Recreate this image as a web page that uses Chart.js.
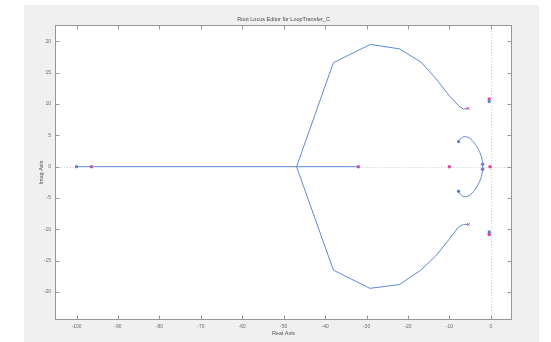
<!DOCTYPE html>
<html><head><meta charset="utf-8">
<script src="https://cdn.jsdelivr.net/npm/chart.js@4"></script>
<style>html,body{margin:0;padding:0;background:#fff;}</style>
</head><body>
<canvas id="c" width="551" height="342"></canvas>
<script>
// ---- data ----
const titleText = 'Root Locus Editor for LoopTransfer_C';
const xLabel = 'Real Axis';
const yLabel = 'Imag Axis';
const xTicks = [-100, -90, -80, -70, -60, -50, -40, -30, -20, -10, 0];
const yTicks = [-20, -15, -10, -5, 0, 5, 10, 15, 20];
const xRange = [-105.2, 5.1];
const yRange = [-24.45, 22.6];

const realLocusX = [-100, -32];
const realLocusY = [0, 0];
const upperLocusX = [-46.9, -38.0, -29.1, -22.1, -16.9, -13.2, -10.0, -7.6, -6.6, -5.5];
const upperLocusY = [0, 16.6, 19.5, 18.8, 16.7, 14.0, 11.3, 9.6, 9.2, 9.3];
const lowerLocusX = [-46.9, -38.0, -29.2, -22.1, -17.1, -13.4, -10.2, -7.8, -6.6, -5.4];
const lowerLocusY = [0, -16.5, -19.4, -18.8, -16.6, -14.3, -11.7, -9.6, -9.2, -9.2];
const loopLocusX = [-7.8, -7.4, -6.8, -6.2, -5.0, -3.4, -2.3, -2.0, -2.3, -3.4, -5.0, -6.2, -6.8, -7.4, -7.8];
const loopLocusY = [4.0, 4.4, 4.7, 4.8, 4.5, 3.2, 1.6, 0, -1.6, -3.2, -4.5, -4.8, -4.7, -4.4, -3.9];

const bluePointX = [-100, -7.8, -7.8, -0.4, -0.4];
const bluePointY = [0, 4.0, -3.9, 10.4, -10.4];
const magentaPointX = [-96.4, -32.0, -10.0, -2.0, -2.0, -0.2, -0.4, -0.4];
const magentaPointY = [0, 0, 0, 0.4, -0.4, 0, 10.8, -10.8];
const crossPointX = [-5.5, -5.4];
const crossPointY = [9.3, -9.2];

// ---- helpers ----
const pts = (xs, ys) => xs.map((x, i) => ({x: x, y: ys[i]}));
const LINE = '#6089da';
const MAG = '#e2479e';

const figurePlugin = {
  id: 'figure',
  beforeDraw(chart) {
    const {ctx, chartArea: a} = chart;
    ctx.save();
    ctx.fillStyle = '#ffffff';
    ctx.fillRect(0, 0, chart.width, chart.height);
    ctx.fillStyle = '#f0f0f0';
    ctx.fillRect(24, 5, 515, 337);
    ctx.fillStyle = '#ffffff';
    ctx.fillRect(a.left, a.top, a.right - a.left, a.bottom - a.top);
    ctx.restore();
  },
  beforeDatasetsDraw(chart) {
    const {ctx, chartArea: a, scales: {x, y}} = chart;
    ctx.save();
    ctx.strokeStyle = '#cccccc';
    ctx.lineWidth = 1;
    ctx.setLineDash([1, 2]);
    const y0 = Math.round(y.getPixelForValue(0)) + 0.5;
    const x0 = Math.round(x.getPixelForValue(0)) + 0.5;
    const segStart = x.getPixelForValue(realLocusX[0]);
    const segEnd = x.getPixelForValue(realLocusX[realLocusX.length - 1]);
    ctx.beginPath();
    ctx.moveTo(a.left, y0); ctx.lineTo(segStart - 2, y0);
    ctx.moveTo(segEnd + 2, y0); ctx.lineTo(a.right, y0);
    ctx.moveTo(x0, a.top); ctx.lineTo(x0, a.bottom);
    ctx.stroke();
    ctx.restore();
  },
  afterDatasetsDraw(chart) {
    const {ctx, chartArea: a, scales: {x, y}} = chart;
    ctx.save();
    ctx.strokeStyle = '#969696';
    ctx.lineWidth = 1;
    const L = Math.round(a.left) + 0.5, R = Math.round(a.right) - 0.5;
    const T = Math.round(a.top) + 0.5, B = Math.round(a.bottom) - 0.5;
    ctx.strokeRect(L, T, R - L, B - T);
    ctx.beginPath();
    const tl = 4;
    xTicks.forEach(v => {
      const p = Math.round(x.getPixelForValue(v)) + 0.5;
      ctx.moveTo(p, B); ctx.lineTo(p, B - tl);
      ctx.moveTo(p, T); ctx.lineTo(p, T + tl);
    });
    yTicks.forEach(v => {
      const p = Math.round(y.getPixelForValue(v)) + 0.5;
      ctx.moveTo(L, p); ctx.lineTo(L + tl, p);
      ctx.moveTo(R, p); ctx.lineTo(R - tl, p);
    });
    ctx.stroke();
    ctx.restore();
  }
};

const lineDs = (xs, ys, tension) => ({
  data: pts(xs, ys), showLine: true, borderColor: LINE, borderWidth: 1,
  pointRadius: 0, tension: tension || 0, fill: false
});

new Chart(document.getElementById('c'), {
  type: 'scatter',
  data: {
    datasets: [
      lineDs(realLocusX, realLocusY),
      lineDs(upperLocusX, upperLocusY),
      lineDs(lowerLocusX, lowerLocusY),
      lineDs(loopLocusX, loopLocusY, 0.4),
      {data: pts(bluePointX, bluePointY), pointStyle: 'circle', pointRadius: 1.6,
       backgroundColor: '#4d7fd6', borderColor: '#4d7fd6', borderWidth: 0},
      {data: pts(magentaPointX, magentaPointY), pointStyle: 'circle', pointRadius: 1.8,
       backgroundColor: MAG, borderColor: MAG, borderWidth: 0},
      {data: pts(crossPointX, crossPointY), pointStyle: 'crossRot', pointRadius: 2.2,
       backgroundColor: '#ef5a7a', borderColor: '#ef5a7a', borderWidth: 1}
    ]
  },
  options: {
    responsive: false,
    animation: false,
    devicePixelRatio: 1,
    layout: {padding: {left: 0, right: 39, top: 0, bottom: 0}},
    plugins: {
      legend: {display: false},
      tooltip: {enabled: false},
      title: {
        display: true, text: titleText, fullSize: false, color: '#4a4a4a',
        font: {family: 'Liberation Sans', size: 5.5, weight: 'normal'},
        padding: {top: 15.7, bottom: 2.7}
      }
    },
    scales: {
      x: {
        type: 'linear', min: xRange[0], max: xRange[1],
        afterBuildTicks: s => { s.ticks = xTicks.map(v => ({value: v})); },
        afterFit: s => { s.height = 22; },
        grid: {display: false, drawTicks: false},
        border: {display: false},
        ticks: {color: '#6a6a6a', font: {family: 'Liberation Sans', size: 5}, padding: 3.5, maxRotation: 0, autoSkip: false},
        title: {display: true, text: xLabel, color: '#555555', font: {family: 'Liberation Sans', size: 5.5}, padding: {top: 0, bottom: 5.7}}
      },
      y: {
        type: 'linear', min: yRange[0], max: yRange[1],
        afterBuildTicks: s => { s.ticks = yTicks.map(v => ({value: v})); },
        afterFit: s => { s.width = 55; },
        grid: {display: false, drawTicks: false},
        border: {display: false},
        ticks: {color: '#6a6a6a', font: {family: 'Liberation Sans', size: 5}, padding: 4, autoSkip: false},
        title: {display: true, text: yLabel, color: '#555555', font: {family: 'Liberation Sans', size: 5.5}, padding: {top: 37.7, bottom: 0}}
      }
    }
  },
  plugins: [figurePlugin]
});
</script>
</body></html>
